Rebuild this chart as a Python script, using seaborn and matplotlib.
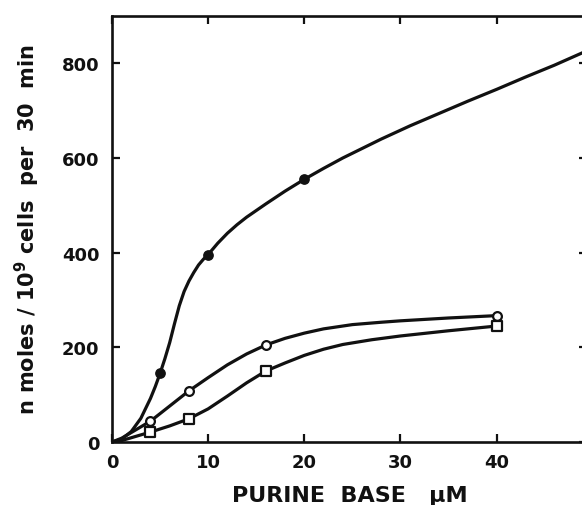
import matplotlib
matplotlib.use("Agg")
import matplotlib.pyplot as plt
import seaborn as sns
import pandas as pd

solid_x = [5, 10, 20]
solid_y = [145, 395, 555]
open_x = [4, 8, 16, 40]
open_y = [44, 108, 205, 267]
square_x = [4, 8, 16, 40]
square_y = [21, 49, 150, 245]

# hand-drawn curves
solid_curve_x = [0, 1, 2, 3, 4, 4.5, 5, 5.5, 6, 6.5, 7, 7.5, 8, 8.5, 9, 9.5, 10,
                 11, 12, 13, 14, 16, 18, 20, 22, 24, 26, 28, 31, 34, 37, 40,
                 43, 46, 49, 50]
solid_curve_y = [0, 6, 22, 50, 92, 117, 145, 176, 210, 250, 288, 318, 340, 358,
                 374, 386, 396, 420, 441, 459, 475, 503, 530, 555, 578, 600,
                 620, 640, 668, 694, 720, 745, 771, 796, 823, 830]
open_curve_x = [0, 1, 2, 3, 4, 6, 8, 10, 12, 14, 16, 18, 20, 22, 25, 28, 30, 35, 40]
open_curve_y = [0, 8, 20, 32, 44, 76, 108, 136, 163, 186, 205, 219, 230, 239,
                248, 253, 256, 262, 267]
square_curve_x = [0, 1, 2, 3, 4, 6, 8, 10, 12, 14, 16, 18, 20, 22, 24, 27, 30, 35, 40]
square_curve_y = [0, 3, 9, 15, 21, 34, 49, 70, 97, 125, 150, 167, 183, 196, 206,
                  216, 224, 235, 245]

x_ticks = [0, 10, 20, 30, 40]
y_ticks = [0, 200, 400, 600, 800]

ink = "#111111"
sns.set_style("ticks")
plt.rcParams["font.family"] = ["DejaVu Sans"]
plt.rcParams["font.weight"] = "bold"
plt.rcParams["mathtext.fontset"] = "dejavusans"
plt.rcParams["text.color"] = ink
plt.rcParams["axes.labelcolor"] = ink
plt.rcParams["lines.solid_joinstyle"] = "round"

fig = plt.figure(figsize=(5.82, 5.06), dpi=100)
ax = fig.add_axes([112 / 582, 63 / 506, 475 / 582, 426 / 506])

for cx, cy in [(solid_curve_x, solid_curve_y), (open_curve_x, open_curve_y),
               (square_curve_x, square_curve_y)]:
    df = pd.DataFrame({"x": cx, "y": cy})
    sns.lineplot(data=df, x="x", y="y", sort=False, estimator=None,
                 color=ink, linewidth=2.3, ax=ax, zorder=2)

sns.scatterplot(x=solid_x, y=solid_y, marker="o", s=45, color=ink,
                edgecolor=ink, linewidth=1, ax=ax, zorder=3)
sns.scatterplot(x=open_x, y=open_y, marker="o", s=40, color="white",
                edgecolor=ink, linewidth=1.6, ax=ax, zorder=3)
sns.scatterplot(x=square_x, y=square_y, marker="s", s=55, color="white",
                edgecolor=ink, linewidth=1.6, ax=ax, zorder=3)

ax.set_xlim(0, 49.4)
ax.set_ylim(0, 900)
ax.set_xticks(x_ticks)
ax.set_yticks(y_ticks)
ax.tick_params(direction="in", length=6, width=1.6, colors=ink,
               labelsize=13, top=True, right=True)
ax.tick_params(axis="x", pad=8)
ax.tick_params(axis="y", pad=9)
for lbl in ax.get_xticklabels() + ax.get_yticklabels():
    lbl.set_fontweight("bold")
for sp in ax.spines.values():
    sp.set_linewidth(1.9)
    sp.set_color(ink)

ax.set_xlabel("PURINE  BASE   \u03bcM", fontsize=16, fontweight="bold", labelpad=10)
ax.set_ylabel(r"n moles / 10$^{\mathbf{9}}$ cells  per  30  min", fontsize=15,
              fontweight="bold", labelpad=14)

fig.savefig("out.png", dpi=100)
plt.close(fig)
